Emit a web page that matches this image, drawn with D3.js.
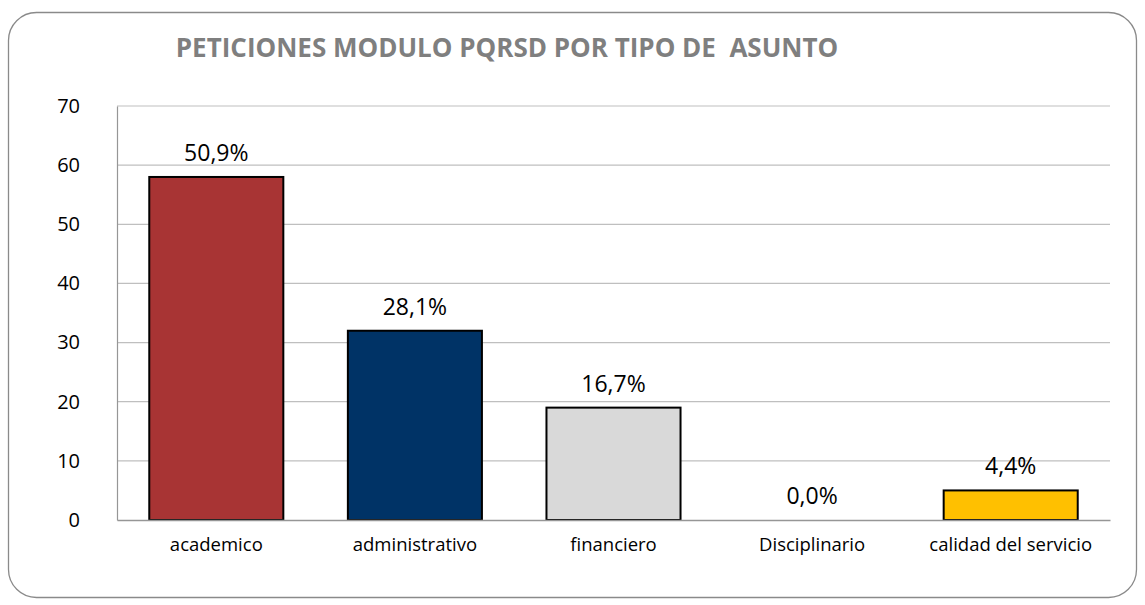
<!DOCTYPE html>
<html>
<head>
<meta charset="utf-8">
<script src="https://cdn.jsdelivr.net/npm/d3@7"></script>
<style>
  body { margin: 0; background: #fff; }
  svg text { font-family: "Open Sans", "Noto Sans", sans-serif; }
</style>
</head>
<body>
<div id="chart"></div>
<script>
// Data
var categories = ["academico", "administrativo", "financiero", "Disciplinario", "calidad del servicio"];
var counts = [58, 32, 19, 0, 5];
var percentLabels = ["50,9%", "28,1%", "16,7%", "0,0%", "4,4%"];
var barColors = ["#A83434", "#003366", "#D9D9D9", "#D9D9D9", "#FFC000"];
var yTicks = [0, 10, 20, 30, 40, 50, 60, 70];

var svgWidth = 1145;
var svgHeight = 605;

var chartMargin = { top: 106, right: 35, bottom: 85, left: 117 };
var chartWidth = svgWidth - chartMargin.left - chartMargin.right;
var chartHeight = svgHeight - chartMargin.top - chartMargin.bottom;

var svg = d3.select("#chart")
  .append("svg")
  .attr("width", svgWidth)
  .attr("height", svgHeight);

// outer rounded frame
svg.append("rect")
  .attr("x", 8.5)
  .attr("y", 12.5)
  .attr("width", 1128)
  .attr("height", 585)
  .attr("rx", 28)
  .attr("fill", "#fff")
  .attr("stroke", "#8a8a8a")
  .attr("stroke-width", 1.3);

svg.append("text")
  .attr("x", 507)
  .attr("y", 57)
  .attr("text-anchor", "middle")
  .attr("font-size", "26px")
  .attr("font-weight", "bold")
  .attr("fill", "#7f7f7f")
  .attr("xml:space", "preserve")
  .text("PETICIONES MODULO PQRSD POR TIPO DE  ASUNTO");

var chartGroup = svg.append("g")
  .attr("transform", `translate(${chartMargin.left}, ${chartMargin.top})`);

var xBandScale = d3.scaleBand()
  .domain(categories)
  .range([0, chartWidth])
  .paddingInner(0.325)
  .paddingOuter(0.1625);

var yLinearScale = d3.scaleLinear()
  .domain([0, 70])
  .range([chartHeight, 0]);

// gridlines
chartGroup.selectAll(".grid")
  .data(yTicks.filter(d => d > 0))
  .enter()
  .append("line")
  .attr("x1", 0)
  .attr("x2", chartWidth)
  .attr("y1", d => yLinearScale(d))
  .attr("y2", d => yLinearScale(d))
  .attr("stroke", "#bfbfbf")
  .attr("stroke-width", 1.2);

// y axis
var leftAxis = d3.axisLeft(yLinearScale).tickValues(yTicks).tickSize(0).tickPadding(37);
var yAxis = chartGroup.append("g").call(leftAxis);
yAxis.select(".domain").attr("stroke", "#969696").attr("stroke-width", 1.2);
yAxis.selectAll("text")
  .attr("font-size", "20px")
  .attr("fill", "#000");

// bars
chartGroup.selectAll(".bar")
  .data(counts)
  .enter()
  .append("rect")
  .attr("x", (d, i) => xBandScale(categories[i]))
  .attr("y", d => yLinearScale(d))
  .attr("width", xBandScale.bandwidth())
  .attr("height", d => chartHeight - yLinearScale(d))
  .attr("fill", (d, i) => barColors[i])
  .attr("stroke", (d) => d > 0 ? "#000" : "none")
  .attr("stroke-width", 2);

// x axis
var bottomAxis = d3.axisBottom(xBandScale).tickSize(0).tickPadding(18);
var xAxis = chartGroup.append("g")
  .attr("transform", `translate(0, ${chartHeight})`)
  .call(bottomAxis);
xAxis.select(".domain").attr("stroke", "#969696").attr("stroke-width", 1.5);
xAxis.selectAll("text")
  .attr("font-size", "18.5px")
  .attr("fill", "#000");

// value labels
chartGroup.selectAll(".label")
  .data(counts)
  .enter()
  .append("text")
  .attr("x", (d, i) => xBandScale(categories[i]) + xBandScale.bandwidth() / 2)
  .attr("y", d => yLinearScale(d) - 16)
  .attr("text-anchor", "middle")
  .attr("font-size", "23px")
  .attr("fill", "#000")
  .text((d, i) => percentLabels[i]);
</script>
</body>
</html>
